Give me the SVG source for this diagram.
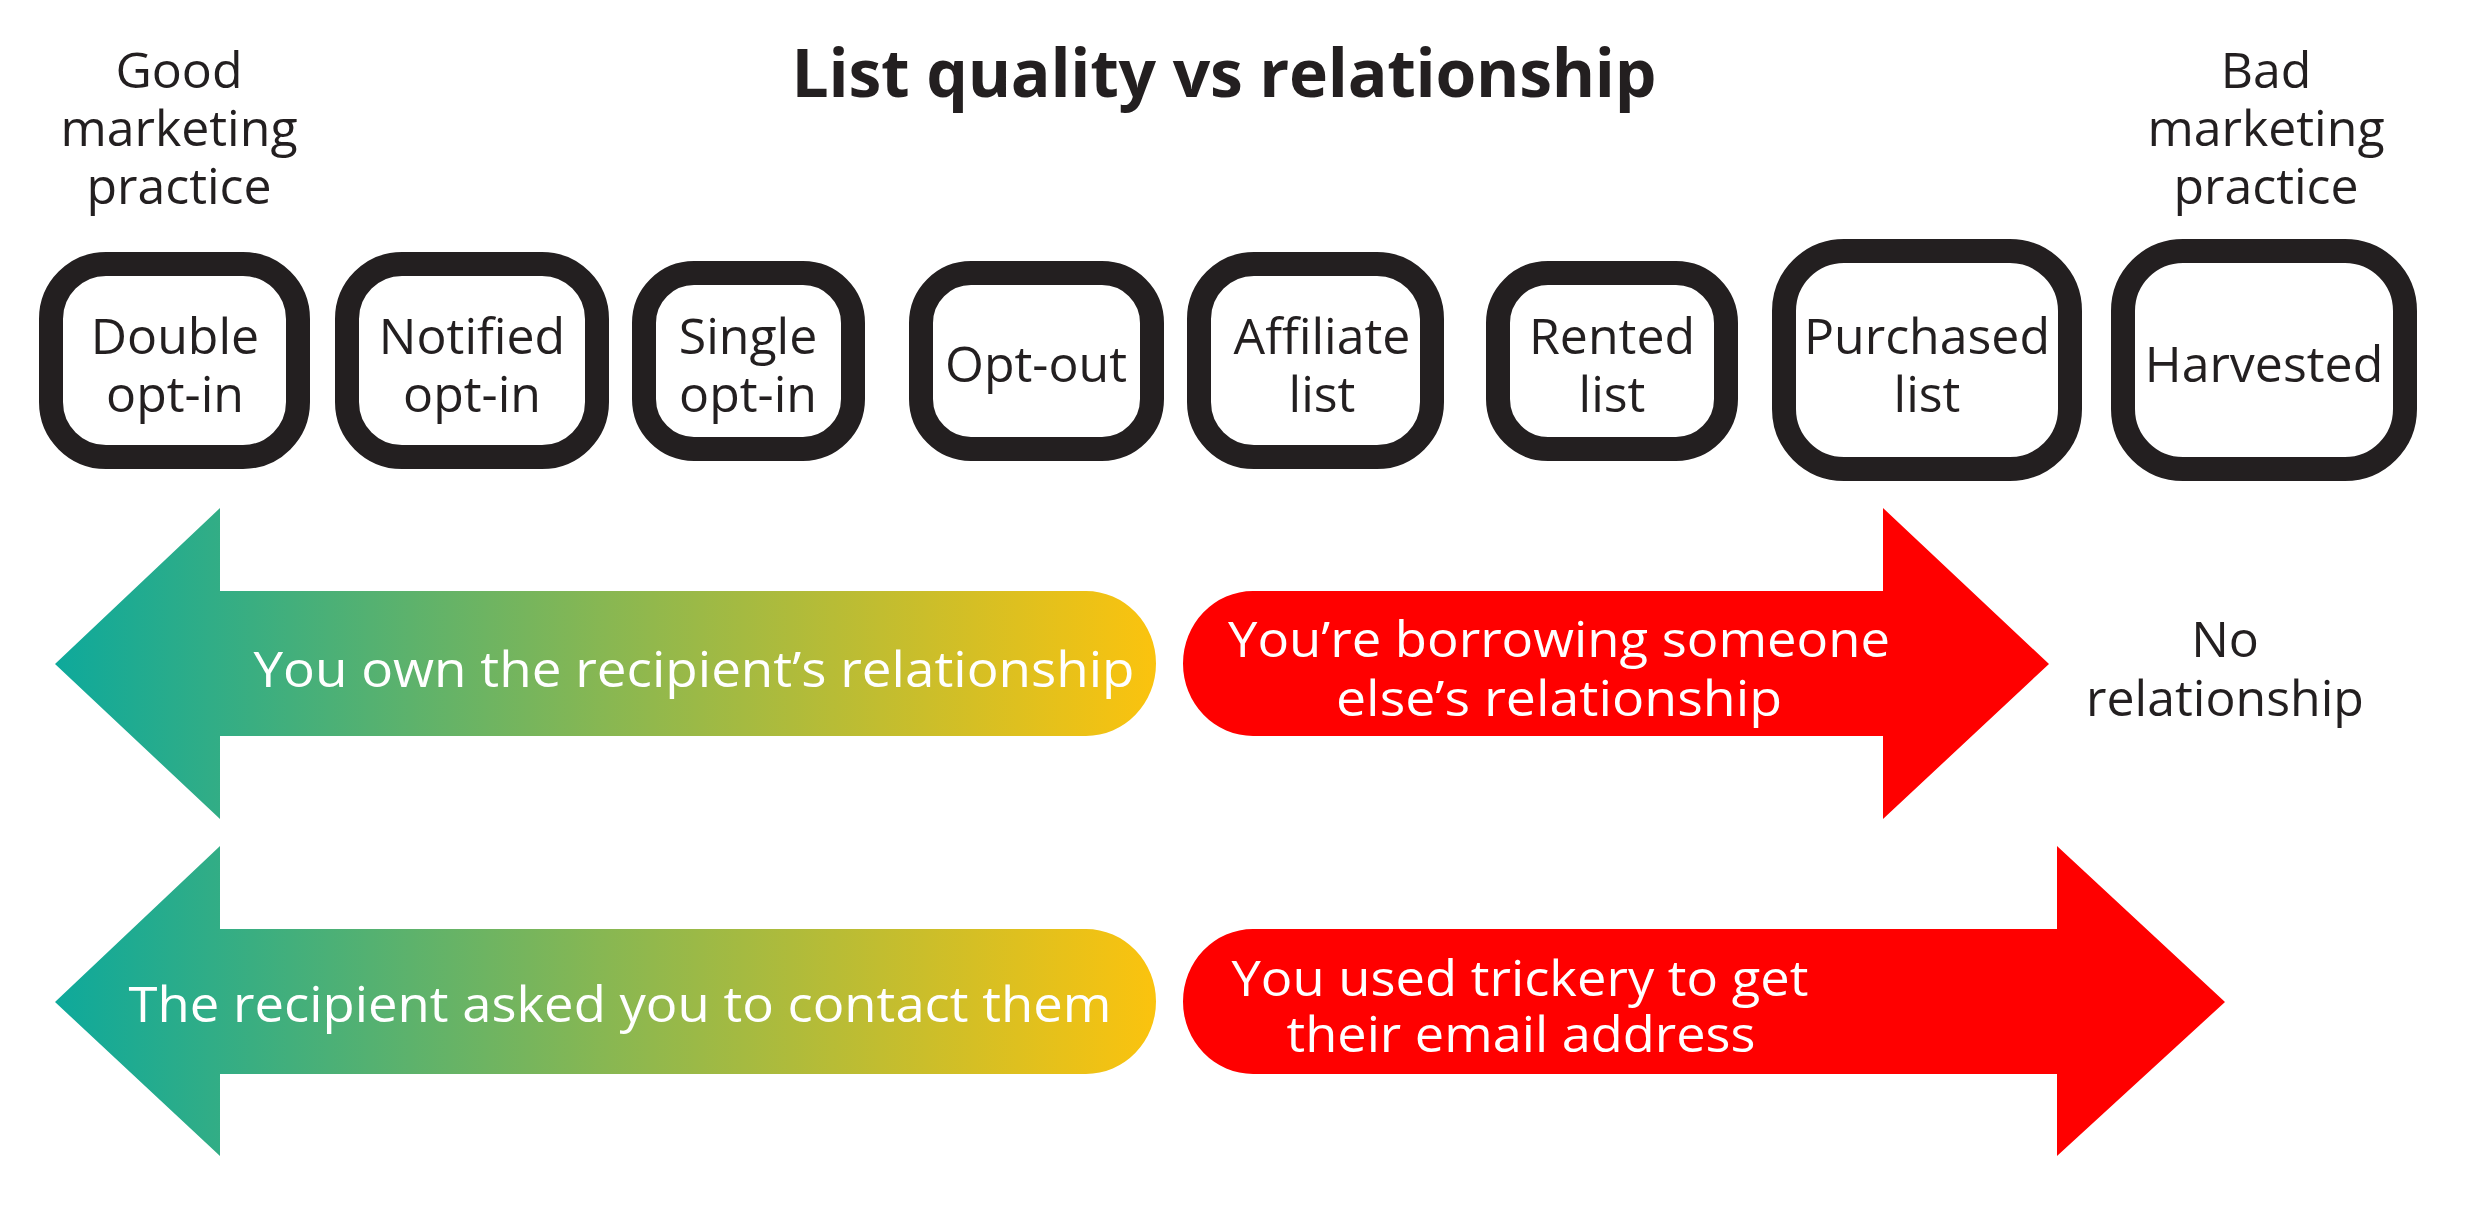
<svg xmlns="http://www.w3.org/2000/svg" width="2466" height="1208" viewBox="0 0 2466 1208">
<style>
.t{font-family:"Open Sans","Liberation Sans",sans-serif;fill:#231f20;text-anchor:middle;font-size:50px}
.w{font-family:"Open Sans","Liberation Sans",sans-serif;fill:#fff;text-anchor:middle;font-size:50px}
.box{fill:#fff;stroke:#231f20;stroke-width:24}
</style>
<defs>
<linearGradient id="g" x1="55" y1="0" x2="1156" y2="0" gradientUnits="userSpaceOnUse">
<stop offset="0" stop-color="#0ea99b"/><stop offset="0.5" stop-color="#88b752"/><stop offset="1" stop-color="#fbc30e"/>
</linearGradient>
</defs>
<rect width="2466" height="1208" fill="#fff"/>
<text x="1224" y="97" class="t" style="font-weight:bold;font-size:66px" textLength="865">List quality vs relationship</text>
<g id="good"><text x="179" y="88" class="t">Good</text><text x="179" y="146" class="t">marketing</text><text x="179" y="204" class="t">practice</text></g>
<g id="bad"><text x="2266" y="88" class="t">Bad</text><text x="2266" y="146" class="t">marketing</text><text x="2266" y="204" class="t">practice</text></g>
<g id="n1"><rect class="box" x="51" y="264" width="247" height="193" rx="55"/><text x="175" y="354" class="t">Double</text><text x="175" y="412" class="t">opt-in</text></g>
<g id="n2"><rect class="box" x="347" y="264" width="250" height="193" rx="55"/><text x="472" y="354" class="t">Notified</text><text x="472" y="412" class="t">opt-in</text></g>
<g id="n3"><rect class="box" x="644" y="273" width="209" height="176" rx="50"/><text x="748" y="354" class="t">Single</text><text x="748" y="412" class="t">opt-in</text></g>
<g id="n4"><rect class="box" x="921" y="273" width="231" height="176" rx="50"/><text x="1036" y="382" class="t">Opt-out</text></g>
<g id="n5"><rect class="box" x="1199" y="264" width="233" height="193" rx="55"/><text x="1322" y="354" class="t">Affiliate</text><text x="1322" y="412" class="t">list</text></g>
<g id="n6"><rect class="box" x="1498" y="273" width="228" height="176" rx="50"/><text x="1612" y="354" class="t">Rented</text><text x="1612" y="412" class="t">list</text></g>
<g id="n7"><rect class="box" x="1784" y="251" width="286" height="218" rx="60"/><text x="1927" y="354" class="t">Purchased</text><text x="1927" y="412" class="t">list</text></g>
<g id="n8"><rect class="box" x="2123" y="251" width="282" height="218" rx="60"/><text x="2264" y="382" class="t">Harvested</text></g>
<g id="connectors">
<path d="M55 664 L220 508 L220 591 L1086 591 A70 72.5 0 0 1 1086 736 L220 736 L220 819 Z" fill="url(#g)"/>
<path d="M2049 664 L1883 508 L1883 591 L1253 591 A70 72.5 0 0 0 1253 736 L1883 736 L1883 819 Z" fill="#ff0000"/>
<path d="M55 1002 L220 846 L220 929 L1086 929 A70 72.5 0 0 1 1086 1074 L220 1074 L220 1156 Z" fill="url(#g)"/>
<path d="M2225 1002 L2057 846 L2057 929 L1253 929 A70 72.5 0 0 0 1253 1074 L2057 1074 L2057 1156 Z" fill="#ff0000"/>
</g>
<text x="694" y="687" class="w" textLength="881" lengthAdjust="spacingAndGlyphs">You own the recipient’s relationship</text>
<text x="1559" y="657" class="w" textLength="662" lengthAdjust="spacingAndGlyphs">You’re borrowing someone</text>
<text x="1559" y="716" class="w" textLength="446" lengthAdjust="spacingAndGlyphs">else’s relationship</text>
<text x="620" y="1022" class="w" textLength="983" lengthAdjust="spacingAndGlyphs">The recipient asked you to contact them</text>
<text x="1520" y="996" class="w" textLength="577" lengthAdjust="spacingAndGlyphs">You used trickery to get</text>
<text x="1521" y="1052" class="w" textLength="469" lengthAdjust="spacingAndGlyphs">their email address</text>
<g id="norel"><text x="2225" y="657" class="t">No</text><text x="2225" y="716" class="t">relationship</text></g>
</svg>
